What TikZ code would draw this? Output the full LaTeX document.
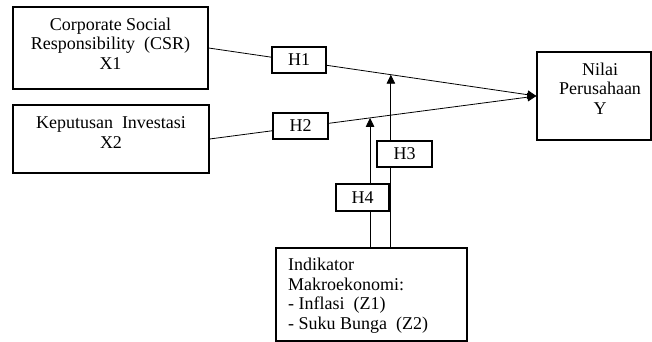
\documentclass[tikz,border=0pt]{standalone}
\usepackage{fontspec}
\setmainfont{Liberation Serif}
\usetikzlibrary{arrows.meta,calc}

\begin{document}
\begin{tikzpicture}[x=1pt,y=-1pt,>={Triangle[length=9pt,width=8.5pt]},
  kotak/.style={draw,line width=1.2pt,inner sep=0pt},
  hipo/.style={draw,fill=white,line width=1.2pt,minimum width=54pt,minimum height=26pt,inner sep=0pt,font=\fontsize{18}{19.5}\selectfont},
  teks/.style={align=center,inner sep=0pt,font=\fontsize{18}{19.5}\selectfont},
  garis/.style={line width=0.8pt}]
\useasboundingbox (0,0) rectangle (652,342);
% kotak variabel
\node [kotak,minimum width=195pt,minimum height=82pt] (x1) at (110.5,48) {};
\node [kotak,minimum width=196pt,minimum height=68pt] (x2) at (111,139) {};
\node [kotak,minimum width=114pt,minimum height=88pt] (y) at (594,96) {};
\node [kotak,minimum width=191pt,minimum height=93pt] (z) at (371.5,294.5) {};
\node [teks] (tx1) at (110.5,43.5) {Corporate Social\\Responsibility~~(CSR)\\X1};
\node [teks] (tx2) at (111,132.75) {Keputusan~~Investasi\\X2};
\node [teks] (ty) at (600,88.5) {Nilai\\Perusahaan\\Y};
\node [teks,align=left,anchor=west] (tz) at (288,295.75) {Indikator\\Makroekonomi:\\- Inflasi~~(Z1)\\- Suku Bunga~~(Z2)};
% garis pengaruh
\draw [garis,->] (x1.east) -- (y.west);
\draw [garis,->] (x2.east) -- (y.west);
\coordinate (t3) at ($(x1.east)!0.556!(y.west)$);
\coordinate (t4) at ($(x2.east)!0.491!(y.west)$);
\draw [garis,->] (t3 |- z.north) -- (t3);
\draw [garis,->] (t4 |- z.north) -- (t4);
% hipotesis
\node [hipo] (h1) at (299,60) {H1};
\node [hipo,minimum width=55pt] (h2) at (300.5,126) {H2};
\node [hipo,minimum width=55pt] (h3) at (404.5,154) {H3};
\node [hipo,minimum width=53pt,minimum height=27pt] (h4) at (362.5,197.5) {H4};
\end{tikzpicture}
\end{document}
